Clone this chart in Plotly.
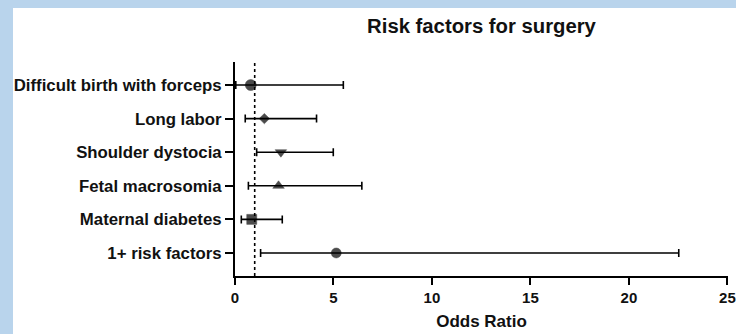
import plotly.graph_objects as go

categories = ["Difficult birth with forceps", "Long labor", "Shoulder dystocia",
              "Fetal macrosomia", "Maternal diabetes", "1+ risk factors"]
odds_ratio = [0.8, 1.49, 2.33, 2.21, 0.85, 5.14]
ci_lower = [0.04, 0.52, 1.1, 0.68, 0.32, 1.3]
ci_upper = [5.5, 4.14, 4.99, 6.44, 2.4, 22.53]
symbols = ["circle", "diamond", "triangle-down", "triangle-up", "square", "circle"]
sizes = [11, 8, 10, 10, 10, 10]
x_ticks = [0, 5, 10, 15, 20, 25]

err_plus = [u - o for u, o in zip(ci_upper, odds_ratio)]
err_minus = [o - l for o, l in zip(odds_ratio, ci_lower)]

FONT = "Liberation Sans, Arial, sans-serif"

fig = go.Figure()
fig.add_trace(go.Scatter(
    x=odds_ratio, y=categories, mode="markers",
    marker=dict(symbol=symbols, size=sizes, color="black",
                line=dict(width=0.5, color="black")),
    error_x=dict(type="data", array=err_plus, arrayminus=err_minus,
                 color="black", thickness=1.6, width=4),
    showlegend=False, cliponaxis=False,
))

fig.add_shape(type="line", xref="x", yref="paper", x0=1, x1=1, y0=0, y1=1,
              line=dict(color="black", width=1.6, dash="dot"))
# white card on blue background
fig.add_shape(type="rect", xref="paper", yref="paper", layer="below",
              x0=(13 - 235) / 493, x1=(740 - 235) / 493,
              y0=(276 - 340) / 214, y1=(276 - 8) / 214,
              fillcolor="white", line=dict(width=0))

fig.update_layout(
    width=736, height=334,
    margin=dict(l=235, r=8, t=62, b=58),
    paper_bgcolor="#B9D4EC", plot_bgcolor="white",
    title=dict(text="<b>Risk factors for surgery</b>", x=0.5, xref="paper",
               xanchor="center", y=1 - 26 / 334, yanchor="middle",
               font=dict(family=FONT, size=20.3, color="#111")),
    font=dict(family=FONT, color="#111"),
)
fig.update_xaxes(range=[0, 25.03], tickvals=x_ticks,
                 ticktext=[f"<b>{v}</b>" for v in x_ticks],
                 ticks="outside", ticklen=7, tickwidth=2, tickcolor="black",
                 showline=True, linewidth=2, linecolor="black",
                 showgrid=False, zeroline=False, automargin=False,
                 tickfont=dict(size=15, family=FONT),
                 title=dict(text="<b>Odds Ratio</b>", standoff=10,
                            font=dict(size=17, family=FONT)))
fig.update_yaxes(range=[5.685, -0.685], tickvals=categories,
                 ticktext=[f"<b>{c}</b>" for c in categories],
                 ticks="outside", ticklen=8, tickwidth=2, tickcolor="black",
                 showline=True, linewidth=2, linecolor="black",
                 showgrid=False, zeroline=False, automargin=False,
                 tickfont=dict(size=16.8, family=FONT))

fig.write_html("out.html", config={"displayModeBar": False},
               post_script="document.body.style.margin='0px';"
                           "document.body.style.overflow='hidden';")
